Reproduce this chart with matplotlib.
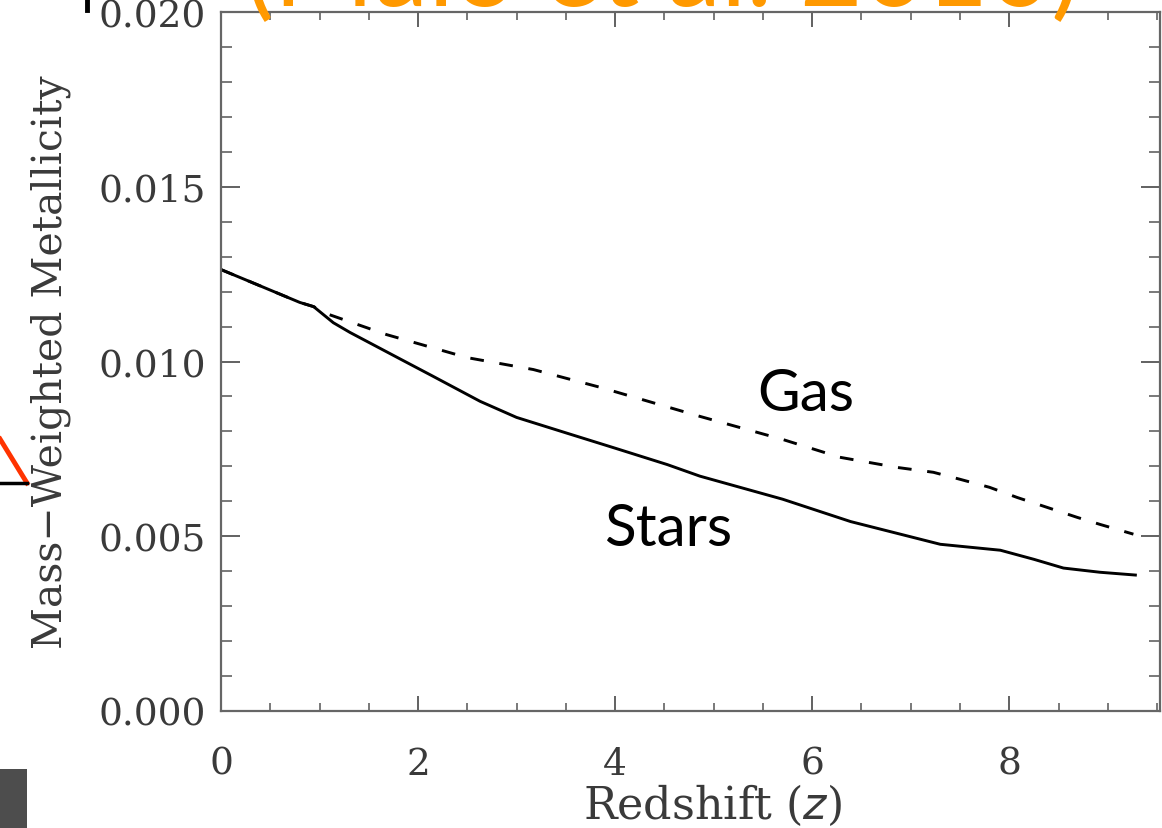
import matplotlib
matplotlib.use("Agg")
import matplotlib.pyplot as plt
from matplotlib.ticker import MultipleLocator, FormatStrFormatter
from matplotlib.patches import Rectangle
from matplotlib.lines import Line2D

# ---- data ----
stars_z = [0.0, 0.29, 0.8, 0.94, 1.14, 1.31, 1.82, 2.15, 2.63, 3.0, 3.51, 4.0,
           4.53, 4.86, 5.7, 6.39, 7.3, 7.91, 8.25, 8.55, 8.92, 9.28]
stars_Z = [0.01263, 0.01229, 0.01169, 0.01157, 0.01111, 0.01083, 0.01007, 0.00958,
           0.00886, 0.00840, 0.00795, 0.00752, 0.00705, 0.00672, 0.00606, 0.00542,
           0.00477, 0.00460, 0.00434, 0.00409, 0.00397, 0.00389]
gas_z = [0.0, 0.29, 0.8, 0.94, 1.1, 1.68, 2.5, 3.17, 3.85, 4.86, 5.7, 6.28,
         6.86, 7.23, 7.5, 7.8, 8.08, 8.38, 8.69, 8.92, 9.26]
gas_Z = [0.01263, 0.01229, 0.01169, 0.01157, 0.01134, 0.01077, 0.01011, 0.00977,
         0.00926, 0.00843, 0.00777, 0.00726, 0.00697, 0.00683, 0.00663, 0.00640,
         0.00611, 0.00583, 0.00554, 0.00534, 0.00506]
x_ticks = [0, 2, 4, 6, 8]
y_ticks = [0.000, 0.005, 0.010, 0.015, 0.020]

W, H = 1162, 829
fig = plt.figure(figsize=(W / 100, H / 100), dpi=100)
fig.patch.set_facecolor("white")

ax = fig.add_axes([221 / W, (H - 712) / H, (1160 - 221) / W, (712 - 13) / H])
ax.plot(stars_z, stars_Z, color="black", lw=2.1)
ax.plot(gas_z, gas_Z, color="black", lw=2.1, dashes=(4.7, 5.4))

ax.set_xlim(0, 9.53)
ax.set_ylim(0, 0.020)
ax.set_xticks(x_ticks)
ax.set_yticks(y_ticks)
ax.xaxis.set_minor_locator(MultipleLocator(0.5))
ax.yaxis.set_minor_locator(MultipleLocator(0.001))
ax.yaxis.set_major_formatter(FormatStrFormatter("%.3f"))

tick_color = "#555555"
for s in ax.spines.values():
    s.set_color("#666666")
    s.set_linewidth(1.6)
ax.tick_params(axis="both", which="both", direction="in", top=True, right=True,
               color=tick_color, labelcolor="#3a3a3a")
ax.tick_params(axis="x", which="major", length=11, width=1.3, pad=25)
ax.tick_params(axis="x", which="minor", length=6, width=1.1)
ax.tick_params(axis="y", which="major", length=14, width=1.3, pad=11)
ax.tick_params(axis="y", which="minor", length=8, width=1.1)
for lab in ax.get_xticklabels() + ax.get_yticklabels():
    lab.set_fontfamily("DejaVu Serif")
    lab.set_fontsize(27)

ax.set_xlabel(r"Redshift ($z$)", fontsize=32, family="DejaVu Serif", color="#3a3a3a",
              va="center")
ax.xaxis.set_label_coords((713 - 221) / 939, (712 - 805) / 699)
ax.set_ylabel("Mass\u2212Weighted Metallicity", fontsize=29.5, family="DejaVu Serif",
              color="#3a3a3a", va="center")
ax.yaxis.set_label_coords((51 - 221) / 939, (712 - 362) / 699)

ax.text((806 - 221) / 939, (712 - 395) / 699, "Gas", fontsize=42, family="Lato",
        ha="center", va="center", color="black", transform=ax.transAxes)
ax.text((668 - 221) / 939, (712 - 530) / 699, "Stars", fontsize=42, family="Lato",
        ha="center", va="center", color="black", transform=ax.transAxes)

# ---- slide decorations ----
fig.text(245 / W, 1 - 6 / H, "(Maio et al. 2010)", fontsize=78, family="Lato",
         color="#ff9900", ha="left", va="baseline", zorder=5)
fig.add_artist(Line2D([87 / W, 87 / W], [1, 1 - 11 / H], color="black", lw=3.5))
fig.add_artist(Line2D([0, 27 / W], [1 - 440 / H, 1 - 484 / H], color="#ff3300", lw=3.5))
fig.add_artist(Line2D([0, 27 / W], [1 - 484 / H, 1 - 484 / H], color="black", lw=2.5))
fig.add_artist(Rectangle((0, 0), 27 / W, 59 / H, transform=fig.transFigure,
                         color="#4d4d4d", lw=0))

fig.savefig("out.png", dpi=100)
